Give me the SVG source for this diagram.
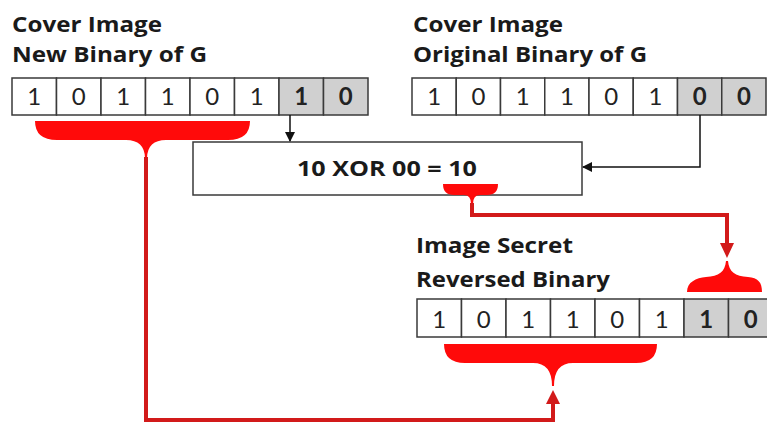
<svg xmlns="http://www.w3.org/2000/svg" width="767" height="424" viewBox="0 0 767 424">
<defs>
<style>
.lbl{font-family:"Open Sans",Lato,"Liberation Sans",sans-serif;font-weight:bold;font-size:21px;fill:#1a1a1a}
.dg{font-family:Lato,"Open Sans","Liberation Sans",sans-serif;font-size:24px;fill:#222;text-anchor:middle}
.db{font-weight:bold}
.cell{fill:#fff;stroke:#3a3a3a;stroke-width:1.5}
.gc{fill:#d0d0d0;stroke:#3a3a3a;stroke-width:1.5}
.box{fill:#fff;stroke:#3a3a3a;stroke-width:1.5}
.brace{fill:#ff0a0a}
.rl{fill:none;stroke:#d21a1a;stroke-width:4}
.bl{fill:none;stroke:#111;stroke-width:1.5}
</style>
<marker id="ab" markerWidth="10" markerHeight="10" refX="9" refY="5" orient="auto" markerUnits="userSpaceOnUse" viewBox="0 0 10 10"><path d="M0,0 L10,5 L0,10 Z" fill="#111"/></marker>
</defs>

<g id="label-new">
<text class="lbl" x="12" y="32" textLength="150" lengthAdjust="spacingAndGlyphs">Cover Image</text>
<text class="lbl" x="12" y="62" textLength="195" lengthAdjust="spacingAndGlyphs">New Binary of G</text>
</g>
<g id="label-orig">
<text class="lbl" x="413" y="32" textLength="150" lengthAdjust="spacingAndGlyphs">Cover Image</text>
<text class="lbl" x="413" y="62" textLength="234" lengthAdjust="spacingAndGlyphs">Original Binary of G</text>
</g>
<g id="label-secret">
<text class="lbl" x="416" y="253" textLength="157" lengthAdjust="spacingAndGlyphs">Image Secret</text>
<text class="lbl" x="416" y="287" textLength="194" lengthAdjust="spacingAndGlyphs">Reversed Binary</text>
</g>

<g id="row-new">
<rect class="cell" x="12" y="78" width="44.5" height="37"/>
<rect class="cell" x="56.5" y="78" width="44.5" height="37"/>
<rect class="cell" x="101" y="78" width="44.5" height="37"/>
<rect class="cell" x="145.5" y="78" width="44.5" height="37"/>
<rect class="cell" x="190" y="78" width="44.5" height="37"/>
<rect class="cell" x="234.5" y="78" width="44.5" height="37"/>
<rect class="gc" x="279" y="78" width="44.5" height="37"/>
<rect class="gc" x="323.5" y="78" width="44.5" height="37"/>
<text class="dg" x="34.3" y="105">1</text>
<text class="dg" x="78.8" y="105">0</text>
<text class="dg" x="123.3" y="105">1</text>
<text class="dg" x="167.8" y="105">1</text>
<text class="dg" x="212.3" y="105">0</text>
<text class="dg" x="256.8" y="105">1</text>
<text class="dg db" x="301.3" y="105">1</text>
<text class="dg db" x="345.8" y="105">0</text>
</g>

<g id="row-orig">
<rect class="cell" x="412" y="78" width="44.25" height="37"/>
<rect class="cell" x="456.25" y="78" width="44.25" height="37"/>
<rect class="cell" x="500.5" y="78" width="44.25" height="37"/>
<rect class="cell" x="544.75" y="78" width="44.25" height="37"/>
<rect class="cell" x="589" y="78" width="44.25" height="37"/>
<rect class="cell" x="633.25" y="78" width="44.25" height="37"/>
<rect class="gc" x="677.5" y="78" width="44.25" height="37"/>
<rect class="gc" x="721.75" y="78" width="44.25" height="37"/>
<text class="dg" x="434.1" y="105">1</text>
<text class="dg" x="478.4" y="105">0</text>
<text class="dg" x="522.6" y="105">1</text>
<text class="dg" x="566.9" y="105">1</text>
<text class="dg" x="611.1" y="105">0</text>
<text class="dg" x="655.4" y="105">1</text>
<text class="dg db" x="699.6" y="105">0</text>
<text class="dg db" x="743.9" y="105">0</text>
</g>

<g id="xor">
<rect class="box" x="193" y="142" width="389" height="53"/>
<text class="lbl" x="297" y="176" textLength="180" lengthAdjust="spacingAndGlyphs">10 XOR 00 = 10</text>
</g>

<g id="row-secret">
<rect class="cell" x="417" y="299" width="44.5" height="38"/>
<rect class="cell" x="461.5" y="299" width="44.5" height="38"/>
<rect class="cell" x="506" y="299" width="44.5" height="38"/>
<rect class="cell" x="550.5" y="299" width="44.5" height="38"/>
<rect class="cell" x="595" y="299" width="44.5" height="38"/>
<rect class="cell" x="639.5" y="299" width="44.5" height="38"/>
<rect class="gc" x="684" y="299" width="44.5" height="38"/>
<rect class="gc" x="728.5" y="299" width="44.5" height="38"/>
<text class="dg" x="439.3" y="328">1</text>
<text class="dg" x="483.8" y="328">0</text>
<text class="dg" x="528.3" y="328">1</text>
<text class="dg" x="572.8" y="328">1</text>
<text class="dg" x="617.3" y="328">0</text>
<text class="dg" x="661.8" y="328">1</text>
<text class="dg db" x="706.3" y="328">1</text>
<text class="dg db" x="750.8" y="328">0</text>
</g>

<g id="brace-new">
<path class="brace" d="M35,121 H250 Q250,140 228,140 H166 Q147.5,140 147,158 H145 Q144.5,140 126,140 H57 Q35,140 35,121 Z"/>
</g>
<g id="brace-xor">
<path class="brace" d="M443,184 H498 Q498,195 487,195 H480 Q473,195 473,204 H471 Q471,195 464,195 H454 Q443,195 443,184 Z"/>
</g>
<g id="brace-secret-top">
<path class="brace" d="M687,292 H762 C762,282 758,278 748,277 C735,276 729,272 728,261 H726 C725,272 719,276 706,277 C696,278 687,282 687,292 Z"/>
</g>
<g id="brace-secret">
<path class="brace" d="M444,344 H657 Q657,363 636,363 H573 Q554,363 554,386 H552 Q552,363 533,363 H465 Q444,363 444,344 Z"/>
</g>

<g id="connectors">
<path class="bl" d="M290,115 V141" marker-end="url(#ab)"/>
<path class="bl" d="M700,115 V167 H583" marker-end="url(#ab)"/>
<path class="rl" d="M472,203 V215 H727 V244"/>
<path d="M720,243 L734,243 L727,258 Z" fill="#d21a1a"/>
<path class="rl" d="M146,157 V420 H553 V402"/>
<path d="M546,404 L560,404 L553,390 Z" fill="#d21a1a"/>
</g>
</svg>
